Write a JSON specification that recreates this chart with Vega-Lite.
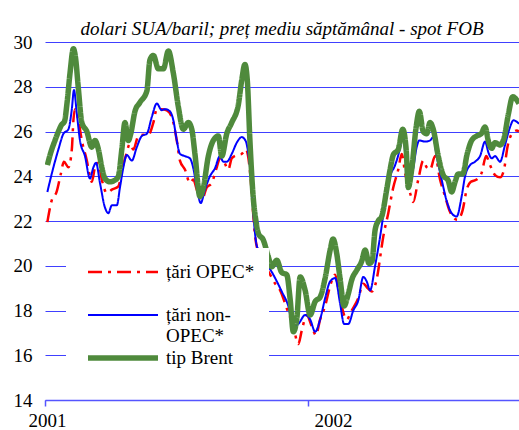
{
"$schema":"https://vega.github.io/schema/vega-lite/v6.json",
"autosize":"none",
"width":474,"height":358,
"padding":{"left":45,"top":42,"right":0,"bottom":30},
"background":"white",
"config":{"view":{"stroke":null},"font":"Liberation Serif"},
"title":{"text":"dolari SUA/baril; preț mediu săptămânal - spot FOB","font":"Liberation Serif","fontSize":19,"fontStyle":"italic","fontWeight":"normal","color":"black","anchor":"middle","frame":"group","baseline":"alphabetic","offset":13,"dy":34},
"data":{"values":[
{"an":2001.009,"serie":"țări OPEC*","pret":21.95},{"an":2001.025,"serie":"țări OPEC*","pret":22.9},{"an":2001.044,"serie":"țări OPEC*","pret":23.3},{"an":2001.060,"serie":"țări OPEC*","pret":24.1},{"an":2001.072,"serie":"țări OPEC*","pret":24.65},{"an":2001.089,"serie":"țări OPEC*","pret":24.4},{"an":2001.102,"serie":"țări OPEC*","pret":25.2},{"an":2001.108,"serie":"țări OPEC*","pret":26.5},{"an":2001.114,"serie":"țări OPEC*","pret":27.0},{"an":2001.127,"serie":"țări OPEC*","pret":26.5},{"an":2001.140,"serie":"țări OPEC*","pret":25.6},{"an":2001.159,"serie":"țări OPEC*","pret":24.7},{"an":2001.171,"serie":"țări OPEC*","pret":24.0},{"an":2001.178,"serie":"țări OPEC*","pret":23.75},{"an":2001.190,"serie":"țări OPEC*","pret":24.4},{"an":2001.203,"serie":"țări OPEC*","pret":24.6},{"an":2001.216,"serie":"țări OPEC*","pret":23.85},{"an":2001.235,"serie":"țări OPEC*","pret":23.25},{"an":2001.254,"serie":"țări OPEC*","pret":23.4},{"an":2001.279,"serie":"țări OPEC*","pret":23.55},{"an":2001.295,"serie":"țări OPEC*","pret":24.4},{"an":2001.308,"serie":"țări OPEC*","pret":24.95},{"an":2001.323,"serie":"țări OPEC*","pret":25.45},{"an":2001.336,"serie":"țări OPEC*","pret":25.2},{"an":2001.355,"serie":"țări OPEC*","pret":25.8},{"an":2001.374,"serie":"țări OPEC*","pret":25.85},{"an":2001.393,"serie":"țări OPEC*","pret":25.85},{"an":2001.412,"serie":"țări OPEC*","pret":26.4},{"an":2001.425,"serie":"țări OPEC*","pret":27.0},{"an":2001.444,"serie":"țări OPEC*","pret":27.0},{"an":2001.463,"serie":"țări OPEC*","pret":26.95},{"an":2001.482,"serie":"țări OPEC*","pret":26.65},{"an":2001.501,"serie":"țări OPEC*","pret":25.6},{"an":2001.513,"serie":"țări OPEC*","pret":24.7},{"an":2001.532,"serie":"țări OPEC*","pret":24.3},{"an":2001.551,"serie":"țări OPEC*","pret":23.7},{"an":2001.564,"serie":"țări OPEC*","pret":23.85},{"an":2001.577,"serie":"țări OPEC*","pret":23.4},{"an":2001.596,"serie":"țări OPEC*","pret":22.95},{"an":2001.615,"serie":"țări OPEC*","pret":23.5},{"an":2001.634,"serie":"țări OPEC*","pret":23.7},{"an":2001.653,"serie":"țări OPEC*","pret":24.4},{"an":2001.665,"serie":"țări OPEC*","pret":24.8},{"an":2001.678,"serie":"țări OPEC*","pret":24.7},{"an":2001.697,"serie":"țări OPEC*","pret":24.3},{"an":2001.710,"serie":"țări OPEC*","pret":24.8},{"an":2001.729,"serie":"țări OPEC*","pret":24.95},{"an":2001.748,"serie":"țări OPEC*","pret":25.0},{"an":2001.764,"serie":"țări OPEC*","pret":25.2},{"an":2001.781,"serie":"țări OPEC*","pret":24.0},{"an":2001.791,"serie":"țări OPEC*","pret":22.4},{"an":2001.798,"serie":"țări OPEC*","pret":21.4},{"an":2001.806,"serie":"țări OPEC*","pret":20.8},{"an":2001.824,"serie":"țări OPEC*","pret":20.3},{"an":2001.856,"serie":"țări OPEC*","pret":19.6},{"an":2001.875,"serie":"țări OPEC*","pret":19.2},{"an":2001.894,"serie":"țări OPEC*","pret":18.9},{"an":2001.919,"serie":"țări OPEC*","pret":18.1},{"an":2001.944,"serie":"țări OPEC*","pret":17.3},{"an":2001.963,"serie":"țări OPEC*","pret":16.5},{"an":2001.976,"serie":"țări OPEC*","pret":17.1},{"an":2001.995,"serie":"țări OPEC*","pret":17.8},{"an":2002.014,"serie":"țări OPEC*","pret":17.3},{"an":2002.030,"serie":"țări OPEC*","pret":16.9},{"an":2002.046,"serie":"țări OPEC*","pret":17.6},{"an":2002.065,"serie":"țări OPEC*","pret":18.2},{"an":2002.084,"serie":"țări OPEC*","pret":19.1},{"an":2002.103,"serie":"țări OPEC*","pret":19.6},{"an":2002.122,"serie":"țări OPEC*","pret":18.5},{"an":2002.147,"serie":"țări OPEC*","pret":17.6},{"an":2002.166,"serie":"țări OPEC*","pret":18.0},{"an":2002.191,"serie":"țări OPEC*","pret":18.55},{"an":2002.210,"serie":"țări OPEC*","pret":19.2},{"an":2002.223,"serie":"țări OPEC*","pret":19.05},{"an":2002.242,"serie":"țări OPEC*","pret":18.85},{"an":2002.261,"serie":"țări OPEC*","pret":19.4},{"an":2002.280,"serie":"țări OPEC*","pret":20.85},{"an":2002.286,"serie":"țări OPEC*","pret":21.3},{"an":2002.305,"serie":"țări OPEC*","pret":22.35},{"an":2002.324,"serie":"țări OPEC*","pret":23.5},{"an":2002.343,"serie":"țări OPEC*","pret":24.3},{"an":2002.356,"serie":"țări OPEC*","pret":25.0},{"an":2002.369,"serie":"țări OPEC*","pret":24.15},{"an":2002.388,"serie":"țări OPEC*","pret":23.25},{"an":2002.400,"serie":"țări OPEC*","pret":22.85},{"an":2002.419,"serie":"țări OPEC*","pret":23.85},{"an":2002.438,"serie":"țări OPEC*","pret":24.7},{"an":2002.451,"serie":"țări OPEC*","pret":24.4},{"an":2002.464,"serie":"țări OPEC*","pret":24.3},{"an":2002.483,"serie":"țări OPEC*","pret":24.9},{"an":2002.502,"serie":"țări OPEC*","pret":23.85},{"an":2002.521,"serie":"țări OPEC*","pret":23.1},{"an":2002.540,"serie":"țări OPEC*","pret":22.4},{"an":2002.568,"serie":"țări OPEC*","pret":22.05},{"an":2002.588,"serie":"țări OPEC*","pret":22.5},{"an":2002.603,"serie":"țări OPEC*","pret":23.4},{"an":2002.619,"serie":"țări OPEC*","pret":23.75},{"an":2002.641,"serie":"țări OPEC*","pret":23.85},{"an":2002.660,"serie":"țări OPEC*","pret":24.15},{"an":2002.677,"serie":"țări OPEC*","pret":24.9},{"an":2002.692,"serie":"țări OPEC*","pret":24.5},{"an":2002.711,"serie":"țări OPEC*","pret":24.05},{"an":2002.730,"serie":"țări OPEC*","pret":23.95},{"an":2002.745,"serie":"țări OPEC*","pret":24.3},{"an":2002.758,"serie":"țări OPEC*","pret":25.3},{"an":2002.775,"serie":"țări OPEC*","pret":25.9},{"an":2002.794,"serie":"țări OPEC*","pret":26.05},{"an":2002.802,"serie":"țări OPEC*","pret":26.0},
{"an":2001.009,"serie":"țări non-OPEC*","pret":23.3},{"an":2001.032,"serie":"țări non-OPEC*","pret":24.4},{"an":2001.051,"serie":"țări non-OPEC*","pret":25.2},{"an":2001.070,"serie":"țări non-OPEC*","pret":25.9},{"an":2001.089,"serie":"țări non-OPEC*","pret":26.1},{"an":2001.102,"serie":"țări non-OPEC*","pret":27.0},{"an":2001.110,"serie":"țări non-OPEC*","pret":27.85},{"an":2001.121,"serie":"țări non-OPEC*","pret":26.8},{"an":2001.133,"serie":"țări non-OPEC*","pret":25.6},{"an":2001.152,"serie":"țări non-OPEC*","pret":24.9},{"an":2001.171,"serie":"țări non-OPEC*","pret":23.9},{"an":2001.184,"serie":"țări non-OPEC*","pret":24.4},{"an":2001.194,"serie":"țări non-OPEC*","pret":24.6},{"an":2001.209,"serie":"țări non-OPEC*","pret":23.7},{"an":2001.228,"serie":"țări non-OPEC*","pret":22.6},{"an":2001.241,"serie":"țări non-OPEC*","pret":22.35},{"an":2001.254,"serie":"țări non-OPEC*","pret":22.7},{"an":2001.273,"serie":"țări non-OPEC*","pret":22.7},{"an":2001.285,"serie":"țări non-OPEC*","pret":23.5},{"an":2001.298,"serie":"țări non-OPEC*","pret":24.4},{"an":2001.311,"serie":"țări non-OPEC*","pret":24.95},{"an":2001.330,"serie":"țări non-OPEC*","pret":24.7},{"an":2001.349,"serie":"țări non-OPEC*","pret":25.3},{"an":2001.368,"serie":"țări non-OPEC*","pret":25.8},{"an":2001.387,"serie":"țări non-OPEC*","pret":25.9},{"an":2001.406,"serie":"țări non-OPEC*","pret":26.65},{"an":2001.425,"serie":"țări non-OPEC*","pret":27.25},{"an":2001.444,"serie":"țări non-OPEC*","pret":26.95},{"an":2001.456,"serie":"țări non-OPEC*","pret":27.0},{"an":2001.475,"serie":"țări non-OPEC*","pret":26.9},{"an":2001.488,"serie":"țări non-OPEC*","pret":26.5},{"an":2001.501,"serie":"țări non-OPEC*","pret":25.6},{"an":2001.513,"serie":"țări non-OPEC*","pret":25.0},{"an":2001.532,"serie":"țări non-OPEC*","pret":24.9},{"an":2001.551,"serie":"țări non-OPEC*","pret":24.8},{"an":2001.564,"serie":"țări non-OPEC*","pret":24.35},{"an":2001.577,"serie":"țări non-OPEC*","pret":23.5},{"an":2001.592,"serie":"țări non-OPEC*","pret":22.8},{"an":2001.608,"serie":"țări non-OPEC*","pret":23.4},{"an":2001.627,"serie":"țări non-OPEC*","pret":24.0},{"an":2001.646,"serie":"țări non-OPEC*","pret":24.35},{"an":2001.665,"serie":"țări non-OPEC*","pret":24.9},{"an":2001.678,"serie":"țări non-OPEC*","pret":24.65},{"an":2001.691,"serie":"țări non-OPEC*","pret":24.65},{"an":2001.710,"serie":"țări non-OPEC*","pret":25.0},{"an":2001.729,"serie":"țări non-OPEC*","pret":25.5},{"an":2001.748,"serie":"țări non-OPEC*","pret":25.75},{"an":2001.764,"serie":"țări non-OPEC*","pret":25.55},{"an":2001.769,"serie":"țări non-OPEC*","pret":25.3},{"an":2001.781,"serie":"țări non-OPEC*","pret":24.2},{"an":2001.791,"serie":"țări non-OPEC*","pret":22.5},{"an":2001.798,"serie":"țări non-OPEC*","pret":21.5},{"an":2001.806,"serie":"țări non-OPEC*","pret":20.85},{"an":2001.824,"serie":"țări non-OPEC*","pret":20.55},{"an":2001.843,"serie":"țări non-OPEC*","pret":20.1},{"an":2001.868,"serie":"țări non-OPEC*","pret":19.6},{"an":2001.900,"serie":"țări non-OPEC*","pret":18.85},{"an":2001.925,"serie":"țări non-OPEC*","pret":18.2},{"an":2001.944,"serie":"țări non-OPEC*","pret":17.3},{"an":2001.963,"serie":"țări non-OPEC*","pret":17.4},{"an":2001.989,"serie":"țări non-OPEC*","pret":17.8},{"an":2002.008,"serie":"țări non-OPEC*","pret":17.6},{"an":2002.027,"serie":"țări non-OPEC*","pret":17.05},{"an":2002.046,"serie":"țări non-OPEC*","pret":17.6},{"an":2002.065,"serie":"țări non-OPEC*","pret":18.55},{"an":2002.084,"serie":"țări non-OPEC*","pret":19.3},{"an":2002.103,"serie":"țări non-OPEC*","pret":19.45},{"an":2002.122,"serie":"țări non-OPEC*","pret":18.3},{"an":2002.137,"serie":"țări non-OPEC*","pret":17.4},{"an":2002.153,"serie":"țări non-OPEC*","pret":17.4},{"an":2002.172,"serie":"țări non-OPEC*","pret":18.0},{"an":2002.191,"serie":"țări non-OPEC*","pret":18.45},{"an":2002.210,"serie":"țări non-OPEC*","pret":19.5},{"an":2002.223,"serie":"țări non-OPEC*","pret":19.3},{"an":2002.236,"serie":"țări non-OPEC*","pret":18.9},{"an":2002.255,"serie":"țări non-OPEC*","pret":20.0},{"an":2002.274,"serie":"țări non-OPEC*","pret":21.3},{"an":2002.293,"serie":"țări non-OPEC*","pret":22.8},{"an":2002.312,"serie":"țări non-OPEC*","pret":24.0},{"an":2002.331,"serie":"țări non-OPEC*","pret":24.5},{"an":2002.350,"serie":"țări non-OPEC*","pret":25.3},{"an":2002.360,"serie":"țări non-OPEC*","pret":26.0},{"an":2002.375,"serie":"țări non-OPEC*","pret":24.3},{"an":2002.388,"serie":"țări non-OPEC*","pret":23.85},{"an":2002.399,"serie":"țări non-OPEC*","pret":24.3},{"an":2002.413,"serie":"țări non-OPEC*","pret":25.3},{"an":2002.423,"serie":"țări non-OPEC*","pret":25.6},{"an":2002.445,"serie":"țări non-OPEC*","pret":25.55},{"an":2002.464,"serie":"țări non-OPEC*","pret":25.6},{"an":2002.476,"serie":"țări non-OPEC*","pret":25.75},{"an":2002.489,"serie":"țări non-OPEC*","pret":24.9},{"an":2002.508,"serie":"țări non-OPEC*","pret":23.85},{"an":2002.527,"serie":"țări non-OPEC*","pret":22.9},{"an":2002.546,"serie":"țări non-OPEC*","pret":22.35},{"an":2002.565,"serie":"țări non-OPEC*","pret":22.2},{"an":2002.584,"serie":"țări non-OPEC*","pret":23.1},{"an":2002.597,"serie":"țări non-OPEC*","pret":24.0},{"an":2002.616,"serie":"țări non-OPEC*","pret":24.5},{"an":2002.635,"serie":"țări non-OPEC*","pret":24.65},{"an":2002.654,"serie":"țări non-OPEC*","pret":24.9},{"an":2002.673,"serie":"țări non-OPEC*","pret":25.55},{"an":2002.686,"serie":"țări non-OPEC*","pret":25.05},{"an":2002.698,"serie":"țări non-OPEC*","pret":24.8},{"an":2002.711,"serie":"țări non-OPEC*","pret":24.9},{"an":2002.730,"serie":"țări non-OPEC*","pret":24.65},{"an":2002.749,"serie":"țări non-OPEC*","pret":25.4},{"an":2002.768,"serie":"țări non-OPEC*","pret":26.2},{"an":2002.781,"serie":"țări non-OPEC*","pret":26.5},{"an":2002.802,"serie":"țări non-OPEC*","pret":26.35},
{"an":2001.009,"serie":"tip Brent","pret":24.5},{"an":2001.023,"serie":"tip Brent","pret":25.1},{"an":2001.038,"serie":"tip Brent","pret":25.6},{"an":2001.051,"serie":"tip Brent","pret":26.0},{"an":2001.063,"serie":"tip Brent","pret":26.3},{"an":2001.074,"serie":"tip Brent","pret":26.45},{"an":2001.084,"serie":"tip Brent","pret":27.3},{"an":2001.095,"serie":"tip Brent","pret":28.6},{"an":2001.108,"serie":"tip Brent","pret":29.7},{"an":2001.116,"serie":"tip Brent","pret":29.3},{"an":2001.127,"serie":"tip Brent","pret":27.9},{"an":2001.140,"serie":"tip Brent","pret":26.4},{"an":2001.159,"serie":"tip Brent","pret":26.0},{"an":2001.178,"serie":"tip Brent","pret":25.3},{"an":2001.190,"serie":"tip Brent","pret":25.6},{"an":2001.203,"serie":"tip Brent","pret":25.2},{"an":2001.216,"serie":"tip Brent","pret":24.4},{"an":2001.228,"serie":"tip Brent","pret":23.9},{"an":2001.247,"serie":"tip Brent","pret":23.75},{"an":2001.262,"serie":"tip Brent","pret":23.8},{"an":2001.279,"serie":"tip Brent","pret":24.0},{"an":2001.292,"serie":"tip Brent","pret":25.2},{"an":2001.304,"serie":"tip Brent","pret":26.4},{"an":2001.317,"serie":"tip Brent","pret":25.6},{"an":2001.326,"serie":"tip Brent","pret":25.9},{"an":2001.342,"serie":"tip Brent","pret":26.9},{"an":2001.361,"serie":"tip Brent","pret":27.3},{"an":2001.387,"serie":"tip Brent","pret":27.8},{"an":2001.399,"serie":"tip Brent","pret":29.2},{"an":2001.412,"serie":"tip Brent","pret":29.4},{"an":2001.431,"serie":"tip Brent","pret":28.8},{"an":2001.450,"serie":"tip Brent","pret":28.8},{"an":2001.469,"serie":"tip Brent","pret":29.6},{"an":2001.488,"serie":"tip Brent","pret":28.6},{"an":2001.507,"serie":"tip Brent","pret":27.1},{"an":2001.526,"serie":"tip Brent","pret":26.1},{"an":2001.545,"serie":"tip Brent","pret":26.4},{"an":2001.558,"serie":"tip Brent","pret":26.1},{"an":2001.570,"serie":"tip Brent","pret":25.0},{"an":2001.589,"serie":"tip Brent","pret":23.1},{"an":2001.602,"serie":"tip Brent","pret":23.5},{"an":2001.621,"serie":"tip Brent","pret":24.9},{"an":2001.640,"serie":"tip Brent","pret":25.6},{"an":2001.659,"serie":"tip Brent","pret":25.8},{"an":2001.672,"serie":"tip Brent","pret":24.9},{"an":2001.691,"serie":"tip Brent","pret":25.9},{"an":2001.710,"serie":"tip Brent","pret":26.4},{"an":2001.735,"serie":"tip Brent","pret":27.2},{"an":2001.748,"serie":"tip Brent","pret":28.3},{"an":2001.760,"serie":"tip Brent","pret":29.0},{"an":2001.769,"serie":"tip Brent","pret":28.3},{"an":2001.779,"serie":"tip Brent","pret":25.6},{"an":2001.792,"serie":"tip Brent","pret":23.0},{"an":2001.802,"serie":"tip Brent","pret":22.0},{"an":2001.811,"serie":"tip Brent","pret":21.45},{"an":2001.830,"serie":"tip Brent","pret":21.15},{"an":2001.849,"serie":"tip Brent","pret":20.4},{"an":2001.862,"serie":"tip Brent","pret":19.95},{"an":2001.881,"serie":"tip Brent","pret":20.25},{"an":2001.900,"serie":"tip Brent","pret":19.7},{"an":2001.919,"serie":"tip Brent","pret":19.6},{"an":2001.932,"serie":"tip Brent","pret":18.5},{"an":2001.944,"serie":"tip Brent","pret":17.05},{"an":2001.957,"serie":"tip Brent","pret":17.6},{"an":2001.970,"serie":"tip Brent","pret":19.5},{"an":2001.989,"serie":"tip Brent","pret":18.9},{"an":2002.008,"serie":"tip Brent","pret":17.8},{"an":2002.027,"serie":"tip Brent","pret":18.4},{"an":2002.046,"serie":"tip Brent","pret":18.6},{"an":2002.065,"serie":"tip Brent","pret":19.45},{"an":2002.084,"serie":"tip Brent","pret":20.7},{"an":2002.095,"serie":"tip Brent","pret":21.2},{"an":2002.109,"serie":"tip Brent","pret":20.55},{"an":2002.122,"serie":"tip Brent","pret":19.4},{"an":2002.137,"serie":"tip Brent","pret":18.2},{"an":2002.152,"serie":"tip Brent","pret":18.7},{"an":2002.167,"serie":"tip Brent","pret":19.4},{"an":2002.185,"serie":"tip Brent","pret":19.8},{"an":2002.204,"serie":"tip Brent","pret":20.2},{"an":2002.217,"serie":"tip Brent","pret":20.7},{"an":2002.232,"serie":"tip Brent","pret":20.1},{"an":2002.243,"serie":"tip Brent","pret":20.2},{"an":2002.255,"serie":"tip Brent","pret":21.6},{"an":2002.267,"serie":"tip Brent","pret":22.0},{"an":2002.280,"serie":"tip Brent","pret":22.2},{"an":2002.299,"serie":"tip Brent","pret":23.4},{"an":2002.312,"serie":"tip Brent","pret":24.3},{"an":2002.324,"serie":"tip Brent","pret":24.95},{"an":2002.343,"serie":"tip Brent","pret":25.2},{"an":2002.360,"serie":"tip Brent","pret":26.1},{"an":2002.373,"serie":"tip Brent","pret":25.2},{"an":2002.381,"serie":"tip Brent","pret":23.5},{"an":2002.394,"serie":"tip Brent","pret":24.3},{"an":2002.411,"serie":"tip Brent","pret":26.2},{"an":2002.423,"serie":"tip Brent","pret":26.9},{"an":2002.438,"serie":"tip Brent","pret":26.0},{"an":2002.451,"serie":"tip Brent","pret":25.9},{"an":2002.464,"serie":"tip Brent","pret":26.4},{"an":2002.476,"serie":"tip Brent","pret":26.1},{"an":2002.495,"serie":"tip Brent","pret":24.9},{"an":2002.514,"serie":"tip Brent","pret":24.05},{"an":2002.533,"serie":"tip Brent","pret":23.8},{"an":2002.546,"serie":"tip Brent","pret":23.3},{"an":2002.559,"serie":"tip Brent","pret":23.75},{"an":2002.571,"serie":"tip Brent","pret":24.1},{"an":2002.588,"serie":"tip Brent","pret":24.1},{"an":2002.605,"serie":"tip Brent","pret":25.0},{"an":2002.622,"serie":"tip Brent","pret":25.6},{"an":2002.641,"serie":"tip Brent","pret":25.8},{"an":2002.658,"serie":"tip Brent","pret":25.9},{"an":2002.673,"serie":"tip Brent","pret":26.2},{"an":2002.686,"serie":"tip Brent","pret":25.55},{"an":2002.698,"serie":"tip Brent","pret":25.25},{"an":2002.711,"serie":"tip Brent","pret":25.5},{"an":2002.730,"serie":"tip Brent","pret":25.4},{"an":2002.745,"serie":"tip Brent","pret":25.7},{"an":2002.762,"serie":"tip Brent","pret":26.8},{"an":2002.778,"serie":"tip Brent","pret":27.55},{"an":2002.794,"serie":"tip Brent","pret":27.4},{"an":2002.802,"serie":"tip Brent","pret":27.25}
]},
"mark":{"type":"line","interpolate":"monotone","clip":true},
"encoding":{
 "x":{"field":"an","type":"quantitative","scale":{"domain":[2001,2002.802],"nice":false,"zero":false},
  "axis":{"title":null,"values":[2001,2002],"format":"d","grid":false,"domainColor":"#5555ff","domainWidth":1.5,"tickColor":"#5555ff","tickSize":6,"tickWidth":1.5,"labelFont":"Liberation Serif","labelFontSize":19,"labelColor":"black","labelFlush":false,"labelPadding":5,"labelOffset":{"expr":"datum.value >= 2002 ? 25 : 2"}}},
 "y":{"field":"pret","type":"quantitative","scale":{"domain":[14,30],"nice":false,"zero":false},
  "axis":{"title":null,"values":[14,16,18,20,22,24,26,28,30],"grid":true,"gridColor":"#4040ff","gridWidth":1,"domain":false,"ticks":false,"labelFont":"Liberation Serif","labelFontSize":19,"labelColor":"black","labelPadding":13}},
 "color":{"field":"serie","type":"nominal","scale":{"domain":["țări OPEC*","țări non-OPEC*","tip Brent"],"range":["#ff0000","#0000ff","#4f8a3c"]},
  "legend":{"orient":"none","legendX":21,"legendY":206,"title":null,"fillColor":"white","padding":14,"symbolOffset":5,"clipHeight":20,"symbolType":"stroke","symbolSize":4900,"labelFont":"Liberation Serif","labelFontSize":19,"labelColor":"black","labelOffset":5,"rowPadding":2,"labelLimit":300,"labelExpr":"datum.label == 'țări non-OPEC*' ? ['țări non-', 'OPEC*'] : datum.label == 'țări OPEC*' ? ['țări OPEC*', ''] : datum.label"}},
 "strokeDash":{"field":"serie","type":"nominal","scale":{"domain":["țări OPEC*","țări non-OPEC*","tip Brent"],"range":[[14,6,3,6],[1,0],[1,0]]}},
 "strokeWidth":{"field":"serie","type":"nominal","scale":{"type":"ordinal","domain":["țări OPEC*","țări non-OPEC*","tip Brent"],"range":[2.5,2,5.5]}}
}
}
